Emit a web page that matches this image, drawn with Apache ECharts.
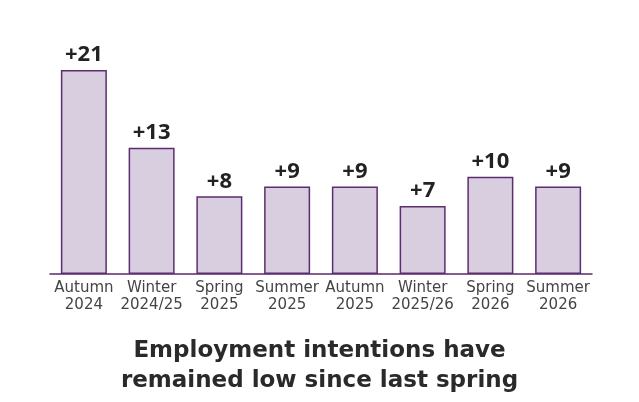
<!DOCTYPE html>
<html><head><meta charset="utf-8">
<script src="https://cdn.jsdelivr.net/npm/echarts@6/dist/echarts.min.js"></script>
<style>html,body{margin:0;padding:0;background:#fff}#c{width:639px;height:402px}</style>
</head><body><div id="c"></div>
<script>
var categories = ["Autumn\n2024","Winter\n2024/25","Spring\n2025","Summer\n2025","Autumn\n2025","Winter\n2025/26","Spring\n2026","Summer\n2026"];
var values = [21, 13, 8, 9, 9, 7, 10, 9];
var titleText = "Employment intentions have\nremained low since last spring";

var chart = echarts.init(document.getElementById('c'));
chart.setOption({
  animation: false,
  backgroundColor: '#fff',
  title: {
    text: titleText, left: 'center', top: 331,
    textStyle: { fontFamily: 'DejaVu Sans', fontWeight: 'bold', fontSize: 23, color: '#2a2a2a', lineHeight: 30 }
  },
  grid: { left: 50, right: 47, top: 70, bottom: 128 },
  xAxis: {
    type: 'category', data: categories,
    axisLine: { lineStyle: { color: '#5a2a6a', width: 1.5 } },
    axisTick: { show: false },
    axisLabel: { interval: 0, color: '#444', fontFamily: 'DejaVu Sans', fontSize: 15, lineHeight: 17, margin: 6 }
  },
  yAxis: { type: 'value', min: 0, max: 21, show: false, splitLine: { show: false } },
  series: [{
    type: 'bar', data: values, barWidth: 46,
    itemStyle: { color: '#d9cee0', borderColor: '#5c2d6e', borderWidth: 1.5 },
    label: {
      show: true, position: 'top', distance: 4,
      formatter: function (p) { return (p.value > 0 ? '+' : '') + p.value; },
      fontFamily: 'Open Sans', fontWeight: 'bold', fontSize: 22, color: '#222'
    }
  }]
});
</script></body></html>
